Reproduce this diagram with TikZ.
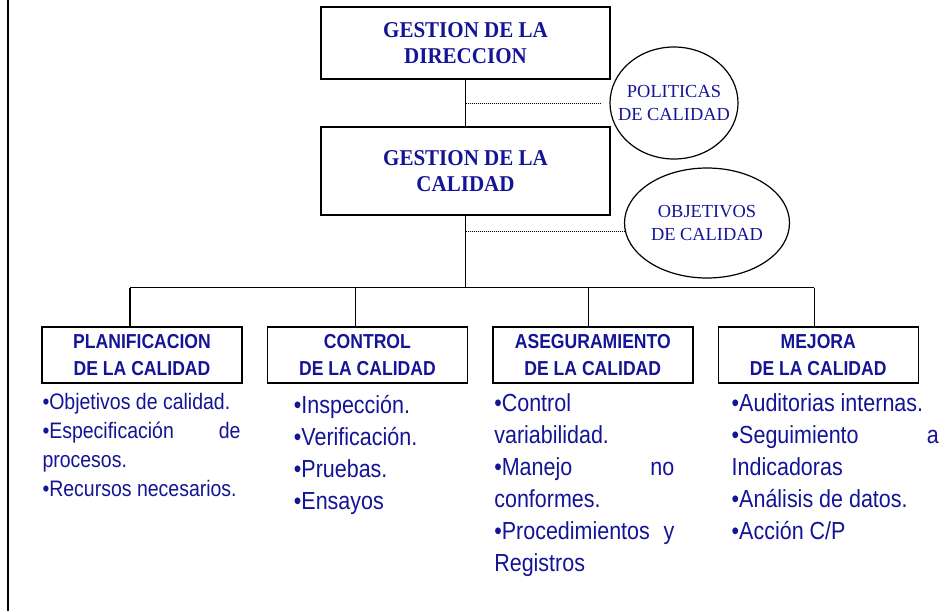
\documentclass[tikz,border=0pt]{standalone}
\usepackage{fontspec}
\setmainfont{Liberation Serif}
\setsansfont{Liberation Sans}[FakeStretch=0.87]
\newfontfamily\narrowserif{Liberation Serif}[FakeStretch=0.93]
\usetikzlibrary{shapes.geometric,positioning}
\definecolor{txtblue}{RGB}{20,20,150}
\newcommand\nohyph{\hyphenpenalty=10000\exhyphenpenalty=10000\tolerance=10000\relax}

\begin{document}
\begin{tikzpicture}[x=1pt,y=-1pt]
% styles
\tikzset{topbox/.style={draw,line width=1.4pt,minimum width=289pt,align=center,text=txtblue,
    font=\narrowserif\bfseries\fontsize{22.6}{25.7}\selectfont}}
\tikzset{oval/.style={draw,ellipse,line width=1.2pt,align=center,inner sep=0pt,text=txtblue,
    font=\fontsize{18.4}{23}\selectfont}}
\tikzset{areabox/.style={draw,line width=1.4pt,minimum width=200pt,minimum height=56pt,inner sep=0pt,
    align=center,text=txtblue,font=\sffamily\bfseries\fontsize{20.2}{26.5}\selectfont}}
\tikzset{itemlist/.style={anchor=base west,inner sep=0pt,align=justify,text=txtblue,
    font=\sffamily\fontsize{24.7}{32}\selectfont}}
\tikzset{link/.style={line width=1.2pt}}
\tikzset{dotline/.style={line width=1pt,dash pattern=on 1pt off 1pt}}
\useasboundingbox (0,0) rectangle (952,611);
% page edge on the left
\draw[line width=2.5pt] (8,0) -- (8,611);
% top of the tree
\node[topbox,minimum height=72pt] (dir) at (465.5,43) {GESTION DE LA\\DIRECCION};
\node[topbox,minimum height=88pt] (cal) at (465.5,171) {GESTION DE LA\\CALIDAD};
% the ovals
\node[oval,minimum width=128pt,minimum height=112pt,inner xsep=-12pt] (pol) at (674,103) {POLITICAS\\DE CALIDAD};
\node[oval,minimum width=165pt,minimum height=110pt] (obj) at (707,223) {OBJETIVOS\\DE CALIDAD};
% the four areas
\node[areabox] (plan) at (142,355) {PLANIFICACION\\DE LA CALIDAD};
\node[areabox,right=24pt of plan] (ctrl) {CONTROL\\DE LA CALIDAD};
\node[areabox,right=24pt of ctrl] (aseg) {ASEGURAMIENTO\\DE LA CALIDAD};
\node[areabox,right=24pt of aseg] (mej) {MEJORA\\DE LA CALIDAD};
% lines
\draw[link] (dir) -- (cal);
\coordinate (bus) at ([shift={(0,72)}]cal.south);
\draw[link] (cal.south) -- (bus);
\draw[link] ([xshift=-12pt]plan.north |- bus) -- ([xshift=-4pt]mej.north |- bus);
\foreach \b/\dx in {plan/-12,ctrl/-12,aseg/-4,mej/-4} {
\draw[link] ([xshift=\dx pt]\b.north |- bus) -- ([xshift=\dx pt]\b.north);
}
\draw[dotline] (dir.south |- pol.west) -- ([xshift=-9pt]pol.west);
\draw[dotline] ([yshift=-8pt]cal.south |- obj.west) -- ([yshift=-8pt]obj.west);
% the lists
\node[itemlist,text width=198pt,font=\sffamily\fontsize{22.4}{29}\selectfont]
  (plantxt) at ([shift={(1,26)}]plan.south west)
  {\nohyph •Objetivos de calidad.\par •Especificación de procesos.\par •Recursos necesarios.};
\node[itemlist,text width=180pt] (ctrltxt) at ([shift={(27,30)}]ctrl.south west)
  {\nohyph •Inspección.\par •Verificación.\par •Pruebas.\par •Ensayos};
\node[itemlist,text width=180pt] (asegtxt) at ([shift={(2,28)}]aseg.south west)
  {\nohyph •Control variabilidad.\par •Manejo no conformes.\par •Procedimientos y Registros};
\node[itemlist,text width=207pt] (mejtxt) at ([shift={(14,28)}]mej.south west)
  {\nohyph •Auditorias internas.\par •Seguimiento a Indicadoras\par •Análisis de datos.\par •Acción C/P};
\end{tikzpicture}
\end{document}
